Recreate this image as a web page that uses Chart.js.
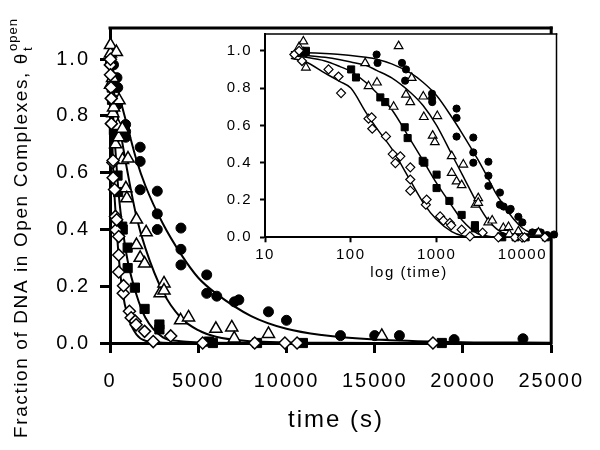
<!DOCTYPE html>
<html>
<head>
<meta charset="utf-8">
<script src="https://cdn.jsdelivr.net/npm/chart.js@4.4.0/dist/chart.umd.min.js"></script>
<style>
  html, body { margin: 0; padding: 0; background: #fff; }
  #wrap { position: relative; width: 600px; height: 450px; }
  canvas { position: absolute; left: 0; top: 0; }
</style>
</head>
<body>
<div id="wrap">
  <canvas id="main" width="600" height="450"></canvas>
  <canvas id="inset" width="600" height="450"></canvas>
</div>
<script>
// measured points (time in s, fraction open)
const circleT = [28, 30, 200, 205, 395, 430, 440, 885, 885, 890, 1710, 1710, 1710, 2680, 2680, 2680, 4020, 4020, 4020, 5480, 5480, 6050, 7050, 7300, 8980, 10000, 13060, 15000, 16400, 19500, 23400];
const circleV = [1.00, 0.99, 0.98, 0.935, 0.935, 0.84, 0.90, 0.77, 0.745, 0.725, 0.69, 0.64, 0.54, 0.535, 0.455, 0.40, 0.405, 0.33, 0.275, 0.24, 0.175, 0.165, 0.145, 0.152, 0.11, 0.08, 0.026, 0.026, 0.026, 0.012, 0.015];

const triangleT = [25, 28, 30, 147, 161, 202, 316, 361, 440, 494, 513, 700, 710, 900, 955, 1020, 1500, 1500, 1710, 1960, 2050, 2840, 3060, 3060, 4000, 4450, 6000, 6900, 7040, 8980, 15400];
const triangleV = [1.02, 1.05, 0.91, 0.934, 0.81, 0.83, 0.70, 1.025, 0.765, 0.725, 0.855, 0.755, 0.645, 0.545, 0.51, 0.65, 0.435, 0.345, 0.30, 0.28, 0.39, 0.175, 0.21, 0.185, 0.08, 0.09, 0.05, 0.055, 0.016, 0.032, 0.025];

const squareT = [28, 30, 101, 115, 221, 252, 425, 460, 689, 720, 1000, 1000, 1410, 1960, 2800, 2800, 5600, 5830, 8330, 10930, 18800];
const squareV = [0.99, 1.00, 0.90, 0.857, 0.75, 0.725, 0.59, 0.532, 0.41, 0.40, 0.336, 0.264, 0.195, 0.12, 0.065, 0.048, 0.005, 0.0, 0.0, 0.0, 0.0];

const diamondT = [22, 25, 27, 55, 72, 77, 161, 175, 178, 257, 308, 331, 378, 494, 494, 494, 750, 766, 1100, 1200, 1430, 1480, 1960, 2450, 3440, 5250, 8200, 9910, 10600, 18300];
const diamondV = [0.98, 1.00, 0.945, 0.90, 0.862, 0.773, 0.636, 0.643, 0.582, 0.541, 0.446, 0.398, 0.434, 0.375, 0.31, 0.25, 0.175, 0.202, 0.112, 0.089, 0.077, 0.064, 0.041, 0.005, 0.025, 0.0, 0.0, 0.0, 0.0, 0.0];

// fitted curves
const fitT        = [20, 30, 50, 75, 100, 150, 200, 300, 500, 700, 1000, 1500, 2000, 3000, 4000, 5000, 6000, 8000, 10000, 12000, 15000, 20000, 25000];
const fitCircle   = [0.995, 0.99, 0.985, 0.98, 0.975, 0.965, 0.955, 0.93, 0.88, 0.83, 0.76, 0.645, 0.555, 0.42, 0.315, 0.23, 0.175, 0.095, 0.05, 0.028, 0.012, 0.003, 0.001];
const fitTriangle = [0.98, 0.975, 0.965, 0.952, 0.94, 0.922, 0.895, 0.855, 0.775, 0.705, 0.60, 0.445, 0.335, 0.18, 0.09, 0.045, 0.022, 0.006, 0.002, 0.001, 0, 0, 0];
const fitSquare   = [0.975, 0.965, 0.945, 0.915, 0.89, 0.83, 0.775, 0.685, 0.52, 0.41, 0.29, 0.17, 0.09, 0.02, 0.006, 0.002, 0.001, 0, 0, 0, 0, 0, 0];
const fitDiamond  = [0.96, 0.94, 0.88, 0.835, 0.80, 0.67, 0.585, 0.475, 0.30, 0.185, 0.095, 0.03, 0.008, 0.001, 0, 0, 0, 0, 0, 0, 0, 0, 0];

const mainXTicks = [0, 5000, 10000, 15000, 20000, 25000];
const mainYTicks = [0, 0.2, 0.4, 0.6, 0.8, 1.0];
const insetXTicks = [10, 100, 1000, 10000];
const insetYTicks = [0, 0.2, 0.4, 0.6, 0.8, 1.0];

Chart.defaults.font.family = "'Liberation Sans', Arial, sans-serif";
Chart.defaults.color = '#000';

const pts = (t, v) => t.map((x, i) => ({ x: x, y: v[i] }));

function markers(t, v, style, r, filled, bw, order) {
    return {
        type: 'scatter',
        data: pts(t, v),
        pointStyle: style,
        pointRadius: r,
        pointHoverRadius: r,
        pointBorderWidth: bw,
        pointBorderColor: '#000',
        pointBackgroundColor: filled ? '#000' : '#fff',
        showLine: false,
        clip: false,
        order: order
    };
}

function fitLine(v, w) {
    return {
        type: 'line',
        data: pts(fitT, v),
        borderColor: '#000',
        borderWidth: w,
        pointRadius: 0,
        pointHoverRadius: 0,
        cubicInterpolationMode: 'monotone',
        fill: false,
        order: 10
    };
}

const spacing = (px) => ({
    id: 'spacing',
    beforeLayout(c) { c.ctx.letterSpacing = px; },
    beforeDraw(c) { c.ctx.letterSpacing = px; }
});

// main plot: box, axis titles
const mainDecor = {
    id: 'mainDecor',
    afterDraw(c) {
        const ctx = c.ctx, a = c.chartArea;
        ctx.save();
        ctx.globalAlpha = 1;
        ctx.globalCompositeOperation = 'source-over';
        ctx.fillStyle = '#000';
        // top and right edges of the box
        ctx.fillRect(a.left - 1.5, a.top - 1.5, a.right - a.left + 3, 3);
        ctx.fillRect(a.right - 1.5, a.top - 1.5, 3, a.bottom - a.top + 3);

        ctx.letterSpacing = '2px';
        ctx.font = "24px 'Liberation Sans', Arial, sans-serif";
        ctx.textAlign = 'center';
        ctx.textBaseline = 'middle';
        ctx.fillText('time (s)', 336, 420);

        const yTitle = 'Fraction of DNA in Open Complexes, \u03B8';
        ctx.translate(27, 438);
        ctx.rotate(-Math.PI / 2);
        ctx.textAlign = 'left';
        ctx.textBaseline = 'alphabetic';
        ctx.letterSpacing = '1.6px';
        ctx.font = "19px 'Liberation Sans', Arial, sans-serif";
        ctx.fillText(yTitle, 0, 0);
        const w = ctx.measureText(yTitle).width;
        ctx.letterSpacing = '1px';
        ctx.font = "13px 'Liberation Sans', Arial, sans-serif";
        ctx.fillText('open', w + 1, -10);
        ctx.fillText('t', w + 1, 5);
        ctx.restore();
    }
};

new Chart(document.getElementById('main'), {
    type: 'scatter',
    data: {
        datasets: [
            markers(diamondT, diamondV, 'rectRot', 6, false, 1.5, 0),
            markers(triangleT, triangleV, 'triangle', 7, false, 1.5, 1),
            markers(squareT, squareV, 'rect', 6.5, true, 1, 2),
            markers(circleT, circleV, 'circle', 5, true, 1, 3),
            fitLine(fitCircle, 2),
            fitLine(fitTriangle, 2),
            fitLine(fitSquare, 2),
            fitLine(fitDiamond, 2)
        ]
    },
    options: {
        responsive: false,
        animation: false,
        devicePixelRatio: 1,
        layout: { padding: { top: 28, right: 40, left: 0, bottom: 0 } },
        plugins: { legend: { display: false }, tooltip: { enabled: false } },
        scales: {
            x: {
                type: 'linear',
                min: 0,
                max: 25000,
                afterBuildTicks: s => { s.ticks = mainXTicks.map(v => ({ value: v })); },
                afterFit: s => { s.height = 107; },
                grid: { drawOnChartArea: false, tickLength: 10, tickWidth: 3, tickColor: '#000' },
                border: { color: '#000', width: 3 },
                ticks: { font: { size: 20 }, padding: 16, maxRotation: 0, callback: v => String(v) }
            },
            y: {
                min: 0,
                max: 1.11,
                afterBuildTicks: s => { s.ticks = mainYTicks.map(v => ({ value: v })); },
                afterFit: s => { s.width = 110; },
                grid: { drawOnChartArea: false, tickLength: 10, tickWidth: 3, tickColor: '#000' },
                border: { color: '#000', width: 3 },
                ticks: { font: { size: 20 }, padding: 10, callback: v => v.toFixed(1) }
            }
        }
    },
    plugins: [spacing('2px'), mainDecor]
});

// inset: white box, thin frame, axis title
const insetDecor = {
    id: 'insetDecor',
    beforeDraw(c) {
        const ctx = c.ctx, a = c.chartArea;
        ctx.save();
        ctx.fillStyle = '#fff';
        ctx.fillRect(a.left, a.top, a.right - a.left, a.bottom - a.top);
        ctx.restore();
    },
    afterDraw(c) {
        const ctx = c.ctx, a = c.chartArea;
        ctx.save();
        ctx.fillStyle = '#000';
        ctx.fillRect(a.left, a.top - 0.75, a.right - a.left + 0.75, 1.5);
        ctx.fillRect(a.right - 0.75, a.top - 0.75, 1.5, a.bottom - a.top + 0.75);
        ctx.letterSpacing = '1.5px';
        ctx.font = "15px 'Liberation Sans', Arial, sans-serif";
        ctx.textAlign = 'center';
        ctx.textBaseline = 'middle';
        ctx.fillText('log (time)', 409, 273);
        ctx.restore();
    }
};

new Chart(document.getElementById('inset'), {
    type: 'scatter',
    data: {
        datasets: [
            markers(diamondT, diamondV, 'rectRot', 4.5, false, 1.2, 0),
            markers(triangleT, triangleV, 'triangle', 5, false, 1.2, 1),
            markers(squareT, squareV, 'rect', 5, true, 1, 2),
            markers(circleT, circleV, 'circle', 3.6, true, 1, 3),
            fitLine(fitCircle, 1.5),
            fitLine(fitTriangle, 1.5),
            fitLine(fitSquare, 1.5),
            fitLine(fitDiamond, 1.5)
        ]
    },
    options: {
        responsive: false,
        animation: false,
        devicePixelRatio: 1,
        layout: { padding: { top: 34, right: 43.5, left: 0, bottom: 0 } },
        plugins: { legend: { display: false }, tooltip: { enabled: false } },
        scales: {
            x: {
                type: 'logarithmic',
                min: 10,
                max: 25000,
                afterBuildTicks: s => { s.ticks = insetXTicks.map(v => ({ value: v })); },
                afterFit: s => { s.height = 212.7; },
                grid: { drawOnChartArea: false, tickLength: 5, tickWidth: 2, tickColor: '#000' },
                border: { color: '#000', width: 2 },
                ticks: { font: { size: 15 }, padding: 4, maxRotation: 0, autoSkip: false, callback: v => String(v) }
            },
            y: {
                min: 0,
                max: 1.09,
                afterBuildTicks: s => { s.ticks = insetYTicks.map(v => ({ value: v })); },
                afterFit: s => { s.width = 265; },
                grid: { drawOnChartArea: false, tickLength: 5, tickWidth: 2, tickColor: '#000' },
                border: { color: '#000', width: 2 },
                ticks: { font: { size: 15 }, padding: 8, callback: v => v.toFixed(1) }
            }
        }
    },
    plugins: [spacing('1.5px'), insetDecor]
});
</script>
</body>
</html>
